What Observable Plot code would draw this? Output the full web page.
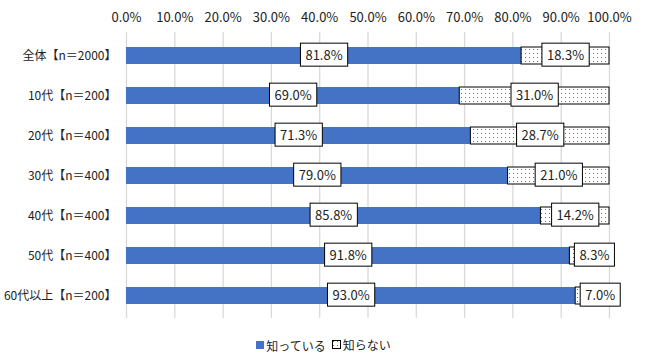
<!DOCTYPE html>
<html><head><meta charset="utf-8">
<script src="https://cdn.jsdelivr.net/npm/d3@7"></script>
<script src="https://cdn.jsdelivr.net/npm/@observablehq/plot@0.6"></script>
<style>
body{margin:0;background:#fff;font-family:"Noto Sans CJK JP","Noto Sans",sans-serif;}
#wrap{width:647px;height:364px;position:relative;}
.legend{position:absolute;top:335px;left:0;width:647px;text-align:center;font-size:12px;color:#222;}
.legend span{display:inline-flex;align-items:center;margin:0 3px;}
.sw{display:inline-block;width:8px;height:8px;margin-right:2px;}
</style></head><body>
<div id="wrap"><div id="chart"></div><div class="legend" id="legend"></div></div>
<script>
const categories = ["全体【n＝2000】","10代【n＝200】","20代【n＝400】","30代【n＝400】","40代【n＝400】","50代【n＝400】","60代以上【n＝200】"];
const know = [81.8, 69.0, 71.3, 79.0, 85.8, 91.8, 93.0];
const dontKnow = [18.3, 31.0, 28.7, 21.0, 14.2, 8.3, 7.0];
const seriesNames = ["知っている", "知らない"];
const xTicks = [0,10,20,30,40,50,60,70,80,90,100];

const blue = "#4472c4";
const rows = [];
categories.forEach((c, i) => {
  rows.push({cat: c, series: seriesNames[0], x1: 0, x2: know[i], v: know[i]});
  rows.push({cat: c, series: seriesNames[1], x1: know[i], x2: Math.min(100, know[i] + dontKnow[i]), v: dontKnow[i]});
});
const fmt = v => v.toFixed(1) + "%";

const plot = Plot.plot({
  width: 647, height: 326,
  marginLeft: 126, marginRight: 38, marginTop: 32, marginBottom: 8,
  style: {fontFamily: '"Noto Sans CJK JP","Noto Sans",sans-serif', fontSize: "12px", color: "#222", background: "#fff"},
  x: {domain: [0, 100], ticks: xTicks, tickFormat: fmt, axis: "top", tickSize: 0, tickPadding: 11, grid: false, label: null},
  y: {domain: categories, paddingInner: 0.58, paddingOuter: 0.29, axis: "left", tickSize: 0, tickPadding: 10, label: null},
  marks: [
    Plot.ruleX(xTicks, {stroke: "#d9d9d9", strokeWidth: 1.3}),
    Plot.barX(rows.filter(d => d.series === seriesNames[0]), {x1: "x1", x2: "x2", y: "cat", fill: blue}),
    Plot.barX(rows.filter(d => d.series === seriesNames[1]), {x1: "x1", x2: "x2", y: "cat", fill: "url(#dots)", stroke: "#000", strokeWidth: 1}),
    Plot.text(rows, {x: d => (d.x1 + d.x2) / 2, y: "cat", text: d => fmt(d.v), fontSize: 13, fill: "#222", className: "vlabel"})
  ]
});
plot.querySelectorAll('g[aria-label^="x-axis"] text').forEach(t => t.style.fontSize = "13px");
document.getElementById("chart").appendChild(plot);

// pattern definition
const svg = d3.select(plot);
const defs = svg.insert("defs", ":first-child");
const pat = defs.append("pattern").attr("id", "dots").attr("width", 4).attr("height", 4).attr("patternUnits", "userSpaceOnUse");
pat.append("rect").attr("width", 4).attr("height", 4).attr("fill", "#fff");
pat.append("rect").attr("x", 1).attr("y", 1).attr("width", 1).attr("height", 1).attr("fill", blue);

// boxes behind value labels
const xs = d3.scaleLinear().domain([0, 100]).range([126, 609]);
const svgRect = plot.getBoundingClientRect();
const labelG = plot.querySelector("g.vlabel") || plot.querySelector('[aria-label="text"]');
const boxG = document.createElementNS("http://www.w3.org/2000/svg", "g");
labelG.parentNode.insertBefore(boxG, labelG);
labelG.querySelectorAll("text").forEach((t, i) => {
  const d = rows[i];
  const r = t.getBoundingClientRect();
  const padX = 5;
  let left = r.left - svgRect.left - padX;
  const w = r.width + 2 * padX;
  const segStart = xs(d.x1);
  if (d.x1 > 0 && left < segStart + 5) {
    const shift = segStart + 5 - left;
    left += shift;
    const tr = t.getAttribute("transform") || "";
    t.setAttribute("transform", tr + ` translate(${shift},0)`);
  }
  const h = 23;
  const cy = r.top - svgRect.top + r.height / 2;
  d3.select(boxG).append("rect")
    .attr("x", left).attr("y", cy - h / 2).attr("width", w).attr("height", h)
    .attr("fill", "#fff").attr("stroke", "#000").attr("stroke-width", 1);
});

// legend
const leg = document.getElementById("legend");
leg.innerHTML = `<span><i class="sw" style="background:${blue}"></i>${seriesNames[0]}</span>` +
  `<span><svg width="9" height="9" style="margin-right:2px"><rect x="0.5" y="0.5" width="8" height="8" fill="url(#dots)" stroke="#000"/></svg>${seriesNames[1]}</span>`;
</script>
</body></html>
